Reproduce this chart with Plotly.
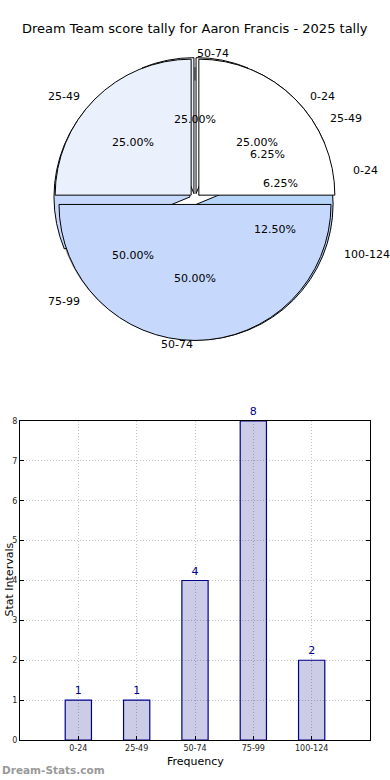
import math
import plotly.graph_objects as go

W, H = 390, 780

# ---------------- data ----------------
title = "Dream Team score tally for Aaron Francis - 2025 tally"
categories = ["0-24", "25-49", "50-74", "75-99", "100-124"]
frequencies = [1, 1, 4, 8, 2]

# second (overlaid) pie as drawn in the source image
overlay_labels = ["0-24", "25-49", "50-74"]
overlay_values = [1, 1, 2]

base_colors = ["#ffffff", "#eaf1fd", "#c6d9fd", "#b6d5f8", "#cfe67f"]
overlay_colors = ["#ffffff", "#eaf1fd", "#c6d9fd"]

FONT = "DejaVu Sans"
NAVY = "#00008b"

# ---------------- pie geometry (pixels) ----------------
cx, cy = 195, 199          # pie centre
r = 136                    # pie radius
rx, ry = 145, 132          # text placement radii (source pie is slightly elliptical)
pull = 0.04


def px(x):
    return x / W


def py(y):
    return 1 - y / H


def pie_domain(ox=0, oy=0, maxpull=0.0):
    half = r * (1 + maxpull)
    return dict(x=[px(cx + ox - half), px(cx + ox + half)],
                y=[py(cy + oy + half), py(cy + oy - half)])


fig = go.Figure()

# shadow ring
fig.add_trace(go.Pie(values=[sum(frequencies)], labels=["shadow"], sort=False, hole=0.9,
                     marker=dict(colors=["rgba(90,90,90,0.6)"], line=dict(width=0)),
                     textinfo="none", hoverinfo="skip", showlegend=False,
                     domain=pie_domain(-2, 4, 0)))

# base pie (5 slices)
fig.add_trace(go.Pie(values=frequencies, labels=categories, sort=False,
                     direction="counterclockwise", rotation=0,
                     pull=[pull] * len(frequencies),
                     marker=dict(colors=base_colors, line=dict(color="black", width=1)),
                     textinfo="none", hoverinfo="label+percent", showlegend=False,
                     domain=pie_domain(0, 0, pull)))

# overlay pie (3 slices)
fig.add_trace(go.Pie(values=overlay_values, labels=overlay_labels, sort=False,
                     direction="counterclockwise", rotation=0,
                     pull=[pull] * len(overlay_values),
                     marker=dict(colors=overlay_colors, line=dict(color="black", width=1)),
                     textinfo="none", hoverinfo="label+percent", showlegend=False,
                     domain=pie_domain(0, 0, pull)))

annotations = []


def pie_texts(labels, values):
    total = sum(values)
    start = 0.0
    for lab, v in zip(labels, values):
        frac = v / total
        mid = math.radians((start + frac / 2) * 360)
        start += frac
        c, s = math.cos(mid), math.sin(mid)
        # outer label
        lx = cx + 1.1 * rx * c
        ly = cy - 1.1 * ry * s
        annotations.append(dict(x=px(lx), y=py(ly), xref="paper", yref="paper",
                                text=lab, showarrow=False,
                                xanchor="left" if c > 0 else "right", yanchor="middle",
                                font=dict(family=FONT, size=11, color="black")))
        # percentage
        tx = cx + 0.6 * rx * c
        ty = cy - 0.6 * ry * s
        annotations.append(dict(x=px(tx), y=py(ty), xref="paper", yref="paper",
                                text=f"{frac * 100:.2f}%", showarrow=False,
                                xanchor="center", yanchor="middle",
                                font=dict(family=FONT, size=11, color="black")))


pie_texts(categories, frequencies)
pie_texts(overlay_labels, overlay_values)

# title
annotations.append(dict(x=px(195), y=py(29), xref="paper", yref="paper",
                        text=title, showarrow=False, xanchor="center", yanchor="middle",
                        font=dict(family=FONT, size=13, color="black")))

# ---------------- bar chart ----------------
fig.add_trace(go.Bar(x=categories, y=frequencies, width=0.45,
                     marker=dict(color="rgba(0,0,128,0.2)", line=dict(color=NAVY, width=1.2)),
                     text=[str(v) for v in frequencies], textposition="outside",
                     textfont=dict(family=FONT, size=11, color=NAVY),
                     cliponaxis=False, showlegend=False,
                     xaxis="x", yaxis="y"))

grid = dict(showgrid=True, gridcolor="#c4c4c4", griddash="1px,2px", gridwidth=1)

fig.update_layout(
    width=W, height=H,
    margin=dict(l=0, r=0, t=0, b=0, autoexpand=False),
    paper_bgcolor="white", plot_bgcolor="white",
    font=dict(family=FONT, color="black"),
    xaxis=dict(domain=[px(20), px(370)], anchor="y", type="category",
               range=[-1, 5], showline=True, linecolor="black", linewidth=1,
               mirror=True, ticks="inside", ticklen=4, tickcolor="black",
               tickfont=dict(family=FONT, size=8, color="#222"),
               automargin=False,
               zeroline=False, fixedrange=True, **grid),
    yaxis=dict(domain=[py(740), py(421)], anchor="x", range=[0, 8], dtick=1,
               showline=True, linecolor="black", linewidth=1, mirror="ticks",
               ticks="inside", ticklen=4, tickcolor="black",
               tickfont=dict(family=FONT, size=8, color="#222"),
               automargin=False,
               zeroline=False, fixedrange=True, **grid),
    bargap=0.5,
)

annotations.append(dict(x=px(195), y=py(761), xref="paper", yref="paper",
                        text="Frequency", showarrow=False,
                        xanchor="center", yanchor="middle",
                        font=dict(family=FONT, size=11, color="black")))
annotations.append(dict(x=0, y=py(580), xref="paper", yref="paper",
                        text="Stat Intervals", textangle=-90, showarrow=False,
                        xanchor="left", yanchor="middle",
                        font=dict(family=FONT, size=11, color="black")))
annotations.append(dict(x=0, y=py(770), xref="paper", yref="paper",
                        text="<b>Dream-Stats.com</b>", showarrow=False,
                        xanchor="left", yanchor="middle",
                        font=dict(family=FONT, size=10.5, color="#999999")))

fig.update_layout(annotations=annotations)

fig.write_html("out.html",
               config={"displayModeBar": False},
               post_script="document.body.style.margin='0px';"
                           "document.body.style.overflow='hidden';")
